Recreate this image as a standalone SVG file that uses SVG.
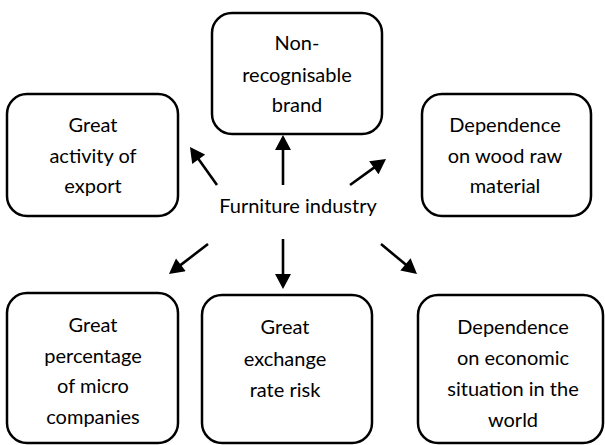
<svg xmlns="http://www.w3.org/2000/svg" width="605" height="445" viewBox="0 0 605 445">
<style>
.box{fill:#fff;stroke:#000;stroke-width:2.5}
.t{font-family:"Lato","Liberation Sans",sans-serif;font-size:20px;fill:#000;text-anchor:middle}
.c{stroke:#000;stroke-width:2.6;fill:none}
</style>
<defs>
<marker id="ah" markerUnits="userSpaceOnUse" markerWidth="16" markerHeight="16" viewBox="0 0 15 16" refX="5" refY="8" orient="auto">
<path d="M0,0 L15,8 L0,16 z" fill="#000"/>
</marker>
</defs>
<rect width="605" height="445" fill="#fff"/>
<g id="connectors">
<line class="c" x1="283" y1="185" x2="283" y2="145" marker-end="url(#ah)"/>
<line class="c" x1="217" y1="185" x2="195.8" y2="155.2" marker-end="url(#ah)"/>
<line class="c" x1="350" y1="185" x2="377.9" y2="164.9" marker-end="url(#ah)"/>
<line class="c" x1="208" y1="244" x2="176.9" y2="267.9" marker-end="url(#ah)"/>
<line class="c" x1="283" y1="239" x2="283" y2="279" marker-end="url(#ah)"/>
<line class="c" x1="381" y1="244" x2="409.3" y2="267.6" marker-end="url(#ah)"/>
</g>
<g id="center">
<text class="t" x="298" y="213">Furniture industry</text>
</g>
<g id="brand">
<rect class="box" x="212" y="13" width="170" height="121" rx="20"/>
<text class="t" x="297" y="50">Non-</text>
<text class="t" x="297" y="82">recognisable</text>
<text class="t" x="297" y="112">brand</text>
</g>
<g id="export">
<rect class="box" x="7" y="94" width="171" height="122" rx="20"/>
<text class="t" x="93" y="132">Great</text>
<text class="t" x="93" y="163">activity of</text>
<text class="t" x="93" y="193">export</text>
</g>
<g id="wood">
<rect class="box" x="422" y="94" width="169" height="122" rx="20"/>
<text class="t" x="505" y="132">Dependence</text>
<text class="t" x="505" y="163">on wood raw</text>
<text class="t" x="505" y="193">material</text>
</g>
<g id="micro">
<rect class="box" x="7" y="293" width="171" height="150" rx="20"/>
<text class="t" x="93" y="332">Great</text>
<text class="t" x="93" y="363">percentage</text>
<text class="t" x="93" y="393">of micro</text>
<text class="t" x="93" y="424">companies</text>
</g>
<g id="exchange">
<rect class="box" x="202" y="295" width="170" height="148" rx="20"/>
<text class="t" x="285" y="334">Great</text>
<text class="t" x="285" y="366">exchange</text>
<text class="t" x="285" y="397">rate risk</text>
</g>
<g id="economic">
<rect class="box" x="418" y="295" width="185" height="148" rx="20"/>
<text class="t" x="513" y="334">Dependence</text>
<text class="t" x="513" y="365">on economic</text>
<text class="t" x="513" y="396">situation in the</text>
<text class="t" x="513" y="427">world</text>
</g>
</svg>
